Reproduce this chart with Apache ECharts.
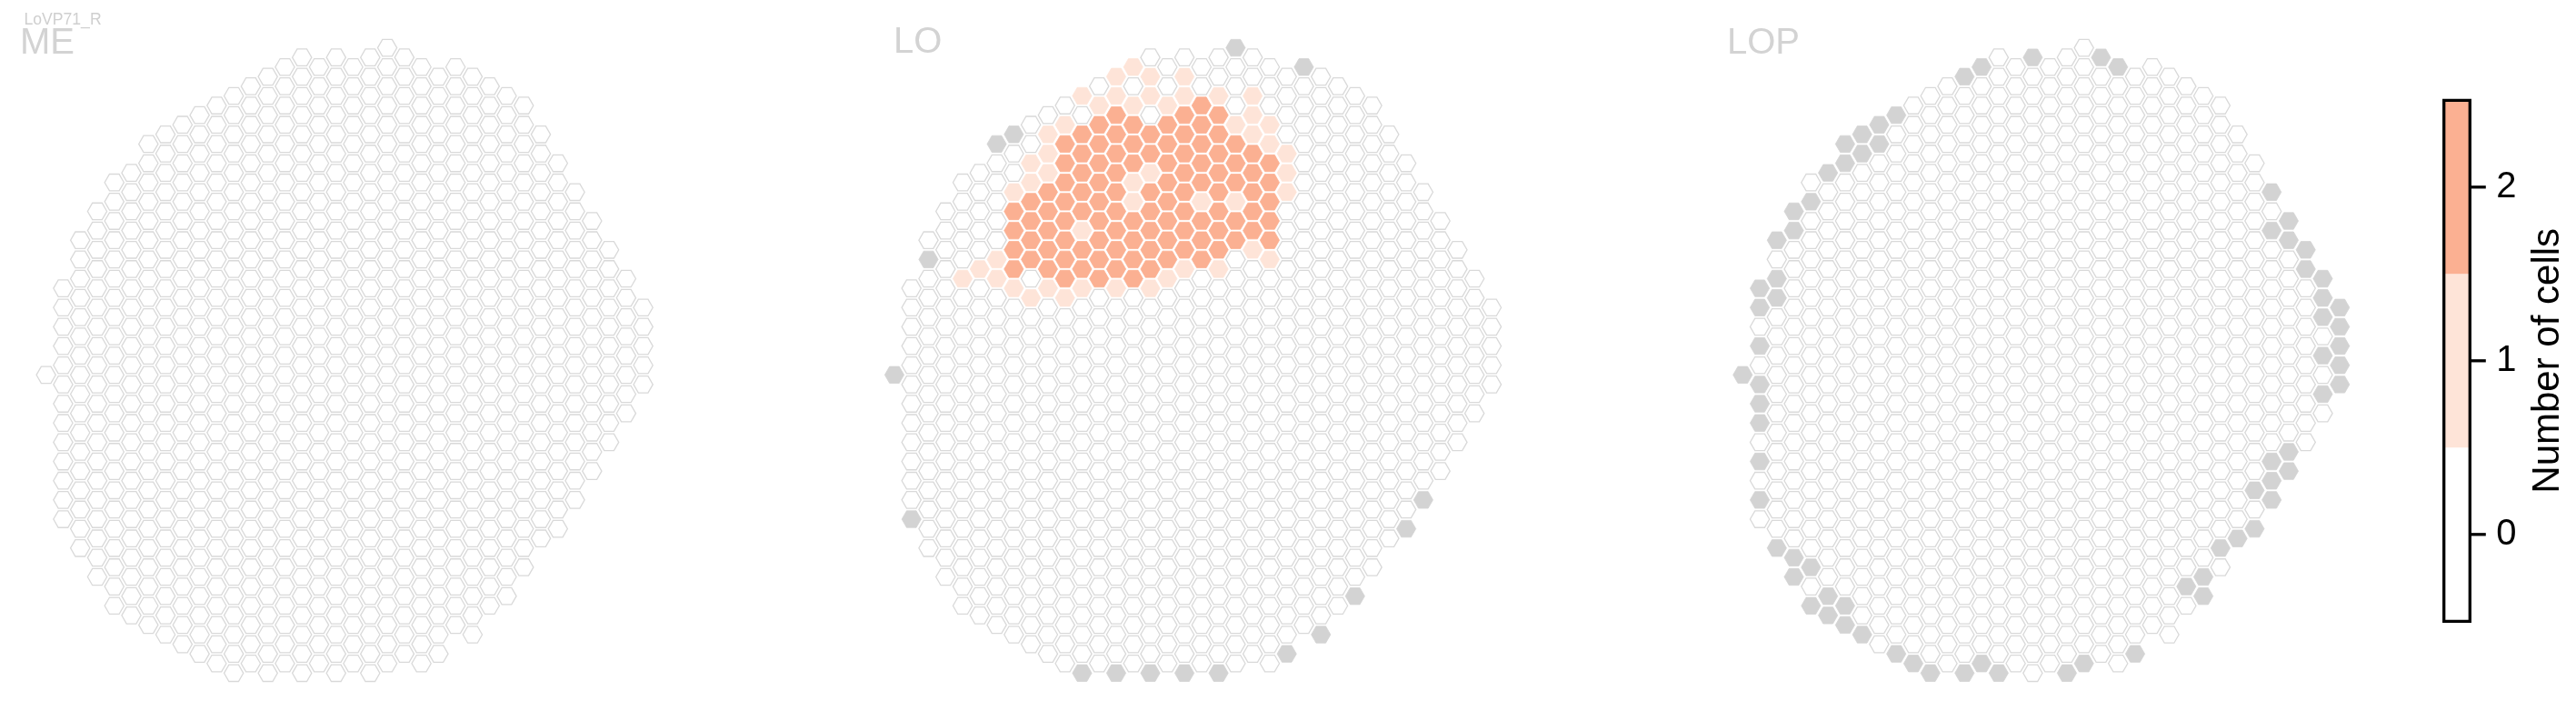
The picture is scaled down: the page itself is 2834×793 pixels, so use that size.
<!DOCTYPE html>
<html>
<head>
<meta charset="utf-8">
<script src="https://cdn.jsdelivr.net/npm/echarts@6/dist/echarts.min.js"></script>
<style>
html,body{margin:0;padding:0;background:#ffffff;}
#chart{width:2834px;height:793px;}
</style>
</head>
<body>
<div id="chart"></div>
<script>
// ---- grid shape: highest / lowest half-row index per hex column ----
const colTop    = [0, 9, 14, 17, 20, 21, 24, 25, 26, 27, 28, 29, 30, 31, 32, 33, 32, 33, 32, 33, 34, 33, 32, 31, 32, 31, 30, 29, 28, 25, 22, 19, 16, 13, 10, 7];
const colBottom = [0, -15, -18, -21, -24, -25, -26, -27, -28, -29, -30, -31, -30, -31, -30, -31, -30, -31, -30, -31, -30, -29, -30, -29, -26, -27, -24, -23, -20, -17, -16, -13, -10, -7, -4, -1];

const panelNames = ['ME', 'LO', 'LOP'];
const figureLabel = 'LoVP71_R';

// ---- columns without data (grey) ----
const loGray = [[20,34],[24,32],[7,25],[6,24],[2,12],[0,0],[1,-15],[11,-31],[13,-31],[15,-31],[17,-31],[19,-31],[23,-29],[25,-27],[27,-23],[30,-16],[31,-13]];
const lopGray = [[17,33],[14,32],[13,31],[9,27],[8,26],[7,25],[6,24],[8,24],[7,23],[6,22],[5,21],[4,18],[3,17],[3,15],[2,14],[2,10],[1,9],[2,8],[1,7],[1,3],[0,0],[1,-1],[1,-3],[1,-5],[1,-9],[1,-13],[2,-18],[3,-19],[4,-20],[3,-21],[5,-23],[4,-24],[6,-24],[5,-25],[6,-26],[7,-27],[9,-29],[10,-30],[11,-31],[13,-31],[14,-30],[15,-31],
  [21,33],[22,32],[31,19],[32,16],[31,15],[32,14],[33,13],[33,11],[34,10],[34,8],[35,7],[34,6],[35,5],[35,3],[34,2],[35,1],[35,-1],[34,-2],[32,-8],[31,-9],[32,-10],[31,-11],[30,-12],[31,-13],[30,-16],[29,-17],[28,-18],[27,-21],[26,-22],[27,-23],[23,-29],[20,-30],[19,-31]];

// ---- LO: columns with 1 cell and with 2 cells ----
const loOne = [[14,32],[13,31],[15,31],[17,31],[12,28],[14,28],[16,28],[11,29],[13,29],[15,29],[17,29],[19,29],[21,29],[21,27],[10,26],[20,26],[22,26],[9,25],[21,25],[22,24],[9,23],[23,23],[8,22],[23,21],[8,20],[7,19],[23,19],[6,10],[5,11],[4,10],[7,9],[8,8],[9,9],[10,8],[11,9],[13,9],[15,9],[16,10],[17,11],[19,11],[21,13],[22,12],[6,12],[14,18],[15,21],[18,18],[20,18],[14,20],[11,15],[9,21]];
const loTwo = [[13,27],[17,27],[19,27],[18,28],[12,26],[14,26],[16,26],[18,26],[11,25],[13,25],[15,25],[17,25],[19,25],[10,24],[12,24],[14,24],[16,24],[18,24],[20,24],[10,22],[12,22],[14,22],[16,22],[18,22],[20,22],[22,22],[11,23],[13,23],[15,23],[17,23],[19,23],[21,23],[10,20],[12,20],[16,20],[18,20],[20,20],[22,20],[11,21],[13,21],[17,21],[19,21],[21,21],[9,19],[11,19],[13,19],[15,19],[17,19],[19,19],[21,19],[8,18],[10,18],[12,18],[16,18],[22,18],[7,17],[9,17],[11,17],[13,17],[15,17],[17,17],[19,17],[21,17],[8,16],[10,16],[12,16],[14,16],[16,16],[18,16],[20,16],[22,16],[7,15],[9,15],[13,15],[15,15],[17,15],[19,15],[21,15],[8,14],[10,14],[12,14],[14,14],[16,14],[18,14],[20,14],[22,14],[7,13],[9,13],[11,13],[13,13],[15,13],[17,13],[19,13],[8,12],[10,12],[12,12],[14,12],[16,12],[18,12],[7,11],[9,11],[11,11],[13,11],[15,11],[10,10],[12,10],[14,10]];

// ---- colour bar ----
const cbValues = [0, 1, 2];
const cbTickLabels = ['0', '1', '2'];
const cbTitle = 'Number of cells';

const fillColors = {'-1': '#d3d3d3', '0': '#ffffff', '1': '#fee4d8', '2': '#fbb092'};

function key(c, h) { return c + ',' + h; }

function buildPanel(grays, ones, twos) {
  const m = {};
  grays.forEach(p => { m[key(p[0], p[1])] = -1; });
  ones.forEach(p => { m[key(p[0], p[1])] = 1; });
  twos.forEach(p => { m[key(p[0], p[1])] = 2; });
  const out = [];
  for (let c = 0; c < colTop.length; c++) {
    for (let h = colBottom[c]; h <= colTop[c]; h += 2) {
      const k = key(c, h);
      out.push([c, h, (k in m) ? m[k] : 0]);
    }
  }
  return out;
}

const panelData = [
  buildPanel([], [], []),
  buildPanel(loGray, loOne, loTwo),
  buildPanel(lopGray, [], [])
];

function hexRender(params, api) {
  const p = api.coord([api.value(0), api.value(1)]);
  const cw = api.size([1, 0])[0];
  const rh = api.size([0, 2])[1];
  const v = api.value(2);
  const rx = cw * 0.565, ry = rh * 0.435;
  const pts = [[p[0] + rx, p[1]], [p[0] + rx / 2, p[1] - ry], [p[0] - rx / 2, p[1] - ry],
               [p[0] - rx, p[1]], [p[0] - rx / 2, p[1] + ry], [p[0] + rx / 2, p[1] + ry]];
  const style = {fill: fillColors[String(v)]};
  if (v === 0) { style.stroke = '#d9d9d9'; style.lineWidth = 1.3; }
  else { style.stroke = fillColors[String(v)]; style.lineWidth = 0.8; }
  return {type: 'polygon', shape: {points: pts}, style: style};
}

// panel geometry (pixels)
const panelLeft = [31.9, 965.2, 1898.5];
const grids = [], xAxes = [], yAxes = [], series = [];
panelLeft.forEach((left, i) => {
  grids.push({left: left, top: 42.0, width: 694.5, height: 708.9});
  xAxes.push({type: 'value', gridIndex: i, min: -1, max: 36, show: false});
  yAxes.push({type: 'value', gridIndex: i, min: -32, max: 35, show: false});
  series.push({type: 'custom', xAxisIndex: i, yAxisIndex: i, renderItem: hexRender,
               data: panelData[i], encode: {x: 0, y: 1}, clip: false, silent: true, animation: false});
});

// colour bar grid
grids.push({left: 2688.7, top: 110.3, width: 28.6, height: 573, show: true, borderColor: '#000000', borderWidth: 3.3, backgroundColor: 'transparent', z: 5});
xAxes.push({type: 'value', gridIndex: 3, min: 0, max: 1, show: false});
yAxes.push({type: 'value', gridIndex: 3, min: -0.5, max: 2.5, position: 'right',
  axisLine: {show: false}, splitLine: {show: false},
  axisTick: {show: false},
  axisLabel: {show: true, customValues: cbValues, formatter: v => cbTickLabels[cbValues.indexOf(Math.round(v))] || '', fontSize: 40, color: '#000000', margin: 29, fontFamily: 'Liberation Sans'},
  name: cbTitle, nameLocation: 'middle', nameRotate: 90, nameGap: 65,
  nameTextStyle: {fontSize: 42, color: '#000000', fontFamily: 'Liberation Sans'}
});
// colour bar fill
series.push({type: 'custom', xAxisIndex: 3, yAxisIndex: 3, data: cbValues.map(v => [v]), encode: {y: 0}, clip: false, animation: false, silent: true,
  renderItem: function (params, api) {
    const v = api.value(0);
    const a = api.coord([0, v + 0.5]);
    const b = api.coord([1, v - 0.5]);
    return {type: 'rect', shape: {x: a[0], y: a[1], width: b[0] - a[0], height: b[1] - a[1]}, style: {fill: fillColors[String(v)]}};
  }
});
// colour bar ticks
series.push({type: 'custom', xAxisIndex: 3, yAxisIndex: 3, data: cbValues.map(v => [v]), encode: {y: 0}, clip: false, animation: false, silent: true, z: 10,
  renderItem: function (params, api) {
    const v = api.value(0);
    const a = api.coord([1, v]);
    return {type: 'line', shape: {x1: a[0], y1: a[1], x2: a[0] + 17.5, y2: a[1]}, style: {stroke: '#000000', lineWidth: 3.3}};
  }
});

const titleColor = '#d3d3d3';
const graphics = [
  {type: 'text', x: 26.5, y: 22, style: {text: figureLabel, font: '17.6px "Liberation Sans"', fill: '#cfcfcf', verticalAlign: 'middle', align: 'left'}},
  {type: 'text', x: 22, y: 47.5, style: {text: panelNames[0], font: '40px "Liberation Sans"', fill: titleColor, verticalAlign: 'middle', align: 'left'}},
  {type: 'text', x: 983, y: 47.3, style: {text: panelNames[1], font: '40px "Liberation Sans"', fill: titleColor, verticalAlign: 'middle', align: 'left'}},
  {type: 'text', x: 1900, y: 47.8, style: {text: panelNames[2], font: '40px "Liberation Sans"', fill: titleColor, verticalAlign: 'middle', align: 'left'}}
];

const chart = echarts.init(document.getElementById('chart'), null, {renderer: 'canvas'});
chart.setOption({
  animation: false,
  backgroundColor: '#ffffff',
  grid: grids, xAxis: xAxes, yAxis: yAxes, series: series,
  graphic: graphics
});
</script>
</body>
</html>
